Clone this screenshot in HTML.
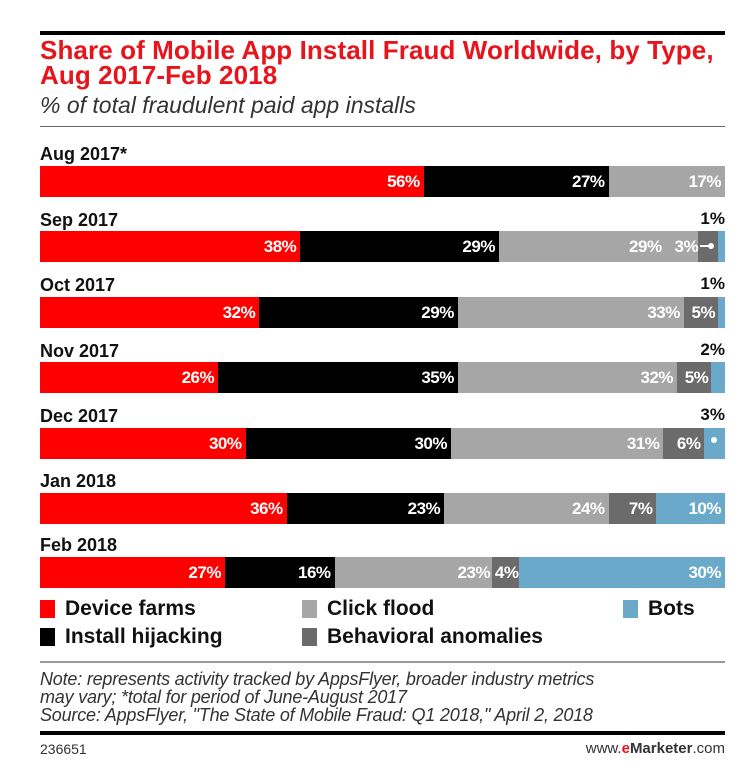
<!DOCTYPE html>
<html><head><meta charset="utf-8"><style>
body{margin:0;width:756px;height:779px;background:#fff;font-family:"Liberation Sans Narrow","Liberation Sans",sans-serif;position:relative;overflow:hidden}
.a{position:absolute}
.t{left:40px;color:#e8141c;font-weight:bold;font-size:26px;line-height:25px;top:38px;letter-spacing:0.1px}
.sub{left:40px;top:92px;font-style:italic;font-size:23px;color:#333}
.lab{left:40px;font-weight:bold;font-size:18px;color:#111}
.bar{left:40px;width:685px;height:31px;display:flex}
.bar>div{height:100%;position:relative}
.bar span{position:absolute;right:4px;top:6px;color:#fff;font-weight:bold;font-size:17px;white-space:nowrap;letter-spacing:-0.5px}
.r{background:#f00}.k{background:#000}.g{background:#a6a6a6}.d{background:#6b6b6b}.b{background:#6aa9c9}
.sm{font-weight:bold;font-size:17px;color:#111;right:31px}
.lg{font-weight:bold;font-size:21px;color:#111}
.sq{width:15px;height:18px}
.n{left:40px;font-style:italic;font-size:18px;color:#333;line-height:18px;top:670px;letter-spacing:-0.2px}
.dot{position:absolute;width:6px;height:6px;border-radius:50%;background:#fff}
</style></head><body>
<div class="a" style="left:40px;top:31px;width:685px;height:4px;background:#000"></div>
<div class="a t">Share of Mobile App Install Fraud Worldwide, by Type,<br>Aug 2017-Feb 2018</div>
<div class="a sub">% of total fraudulent paid app installs</div>
<div class="a" style="left:40px;top:126px;width:685px;height:1px;background:#666"></div>

<div class="a lab" style="top:144px">Aug 2017*</div>
<div class="a bar" style="top:166px"><div class="r" style="width:56%"><span>56%</span></div><div class="k" style="width:27%"><span>27%</span></div><div class="g" style="width:17%"><span>17%</span></div></div>

<div class="a lab" style="top:210px">Sep 2017</div>
<div class="a sm" style="top:209px">1%</div>
<div class="a bar" style="top:231px"><div class="r" style="width:38%"><span>38%</span></div><div class="k" style="width:29%"><span>29%</span></div><div class="g" style="width:29%"><span style="right:36px">29%</span></div><div class="d" style="width:3%"><span style="right:20px">3%</span><div class="dot" style="left:10px;top:12px"></div><div class="a" style="left:2px;top:14px;width:10px;height:2px;background:#fff"></div></div><div class="b" style="width:1%"></div></div>

<div class="a lab" style="top:275px">Oct 2017</div>
<div class="a sm" style="top:274px">1%</div>
<div class="a bar" style="top:297px"><div class="r" style="width:32%"><span>32%</span></div><div class="k" style="width:29%"><span>29%</span></div><div class="g" style="width:33%"><span>33%</span></div><div class="d" style="width:5%"><span style="right:3px">5%</span></div><div class="b" style="width:1%"></div></div>

<div class="a lab" style="top:341px">Nov 2017</div>
<div class="a sm" style="top:340px">2%</div>
<div class="a bar" style="top:362px"><div class="r" style="width:26%"><span>26%</span></div><div class="k" style="width:35%"><span>35%</span></div><div class="g" style="width:32%"><span>32%</span></div><div class="d" style="width:5%"><span style="right:3px">5%</span></div><div class="b" style="width:2%"></div></div>

<div class="a lab" style="top:406px">Dec 2017</div>
<div class="a sm" style="top:405px">3%</div>
<div class="a bar" style="top:428px"><div class="r" style="width:30%"><span>30%</span></div><div class="k" style="width:30%"><span>30%</span></div><div class="g" style="width:31%"><span>31%</span></div><div class="d" style="width:6%"><span>6%</span></div><div class="b" style="width:3%"><div class="dot" style="left:7px;top:9px"></div></div></div>

<div class="a lab" style="top:471px">Jan 2018</div>
<div class="a bar" style="top:493px"><div class="r" style="width:36%"><span>36%</span></div><div class="k" style="width:23%"><span>23%</span></div><div class="g" style="width:24%"><span>24%</span></div><div class="d" style="width:7%"><span>7%</span></div><div class="b" style="width:10%"><span>10%</span></div></div>

<div class="a lab" style="top:535px">Feb 2018</div>
<div class="a bar" style="top:557px"><div class="r" style="width:27%"><span>27%</span></div><div class="k" style="width:16%"><span>16%</span></div><div class="g" style="width:23%"><span style="right:2px">23%</span></div><div class="d" style="width:4%"><span style="right:1px">4%</span></div><div class="b" style="width:30%"><span>30%</span></div></div>

<div class="a sq r" style="left:40px;top:600px"></div><div class="a lg" style="left:65px;top:597px">Device farms</div>
<div class="a sq g" style="left:302px;top:600px"></div><div class="a lg" style="left:327px;top:597px">Click flood</div>
<div class="a sq b" style="left:623px;top:600px"></div><div class="a lg" style="left:648px;top:597px">Bots</div>
<div class="a sq k" style="left:40px;top:628px"></div><div class="a lg" style="left:65px;top:625px">Install hijacking</div>
<div class="a sq d" style="left:302px;top:628px"></div><div class="a lg" style="left:327px;top:625px">Behavioral anomalies</div>

<div class="a" style="left:40px;top:661px;width:685px;height:2px;background:#999"></div>
<div class="a n">Note: represents activity tracked by AppsFlyer, broader industry metrics<br>may vary; *total for period of June-August 2017<br>Source: AppsFlyer, "The State of Mobile Fraud: Q1 2018," April 2, 2018</div>
<div class="a" style="left:40px;top:731px;width:685px;height:4px;background:#000"></div>
<div class="a" style="left:40px;top:741px;font-size:14px;color:#333">236651</div>
<div class="a" style="right:31px;top:740px;font-size:15px;color:#333">www.<b style="color:#e8141c">e</b><b>Marketer</b>.com</div>
</body></html>
